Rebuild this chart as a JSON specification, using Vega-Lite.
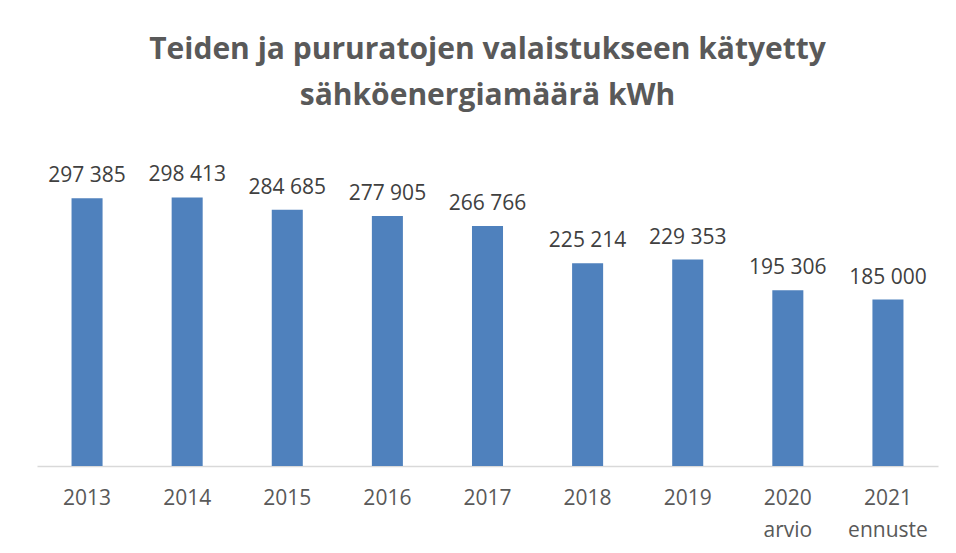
{
  "$schema": "https://vega.github.io/schema/vega-lite/v6.json",
  "width": 901,
  "height": 315,
  "autosize": {"type": "none"},
  "padding": {"left": 37, "top": 151, "right": 18, "bottom": 87},
  "background": "white",
  "title": {
    "text": ["Teiden ja pururatojen valaistukseen kätyetty", "sähköenergiamäärä kWh"],
    "fontSize": 30,
    "font": "Open Sans",
    "fontWeight": "bold",
    "color": "#595959",
    "lineHeight": 46,
    "anchor": "middle",
    "frame": "group",
    "offset": 40
  },
  "data": {
    "values": [
      {"year": "2013", "kwh": 297385, "label": "297 385"},
      {"year": "2014", "kwh": 298413, "label": "298 413"},
      {"year": "2015", "kwh": 284685, "label": "284 685"},
      {"year": "2016", "kwh": 277905, "label": "277 905"},
      {"year": "2017", "kwh": 266766, "label": "266 766"},
      {"year": "2018", "kwh": 225214, "label": "225 214"},
      {"year": "2019", "kwh": 229353, "label": "229 353"},
      {"year": "2020 arvio", "kwh": 195306, "label": "195 306"},
      {"year": "2021 ennuste", "kwh": 185000, "label": "185 000"}
    ]
  },
  "encoding": {
    "x": {
      "field": "year",
      "type": "nominal",
      "sort": null,
      "scale": {"paddingInner": 0.69, "paddingOuter": 0.345},
      "axis": {
        "title": null,
        "labelAngle": 0,
        "labelExpr": "split(datum.value, ' ')",
        "labelFont": "Open Sans",
        "labelFontSize": 21,
        "labelColor": "#595959",
        "labelLineHeight": 32,
        "labelPadding": 21,
        "ticks": false,
        "domainColor": "#D9D9D9",
        "domainWidth": 1.5
      }
    },
    "y": {
      "field": "kwh",
      "type": "quantitative",
      "scale": {"domain": [0, 350000], "nice": false},
      "axis": null
    }
  },
  "layer": [
    {"mark": {"type": "bar", "color": "#4F81BD"}},
    {
      "mark": {
        "type": "text",
        "baseline": "alphabetic",
        "dy": -16,
        "font": "Open Sans",
        "fontSize": 21,
        "color": "#404040"
      },
      "encoding": {"text": {"field": "label"}}
    }
  ],
  "config": {"view": {"stroke": null}}
}
